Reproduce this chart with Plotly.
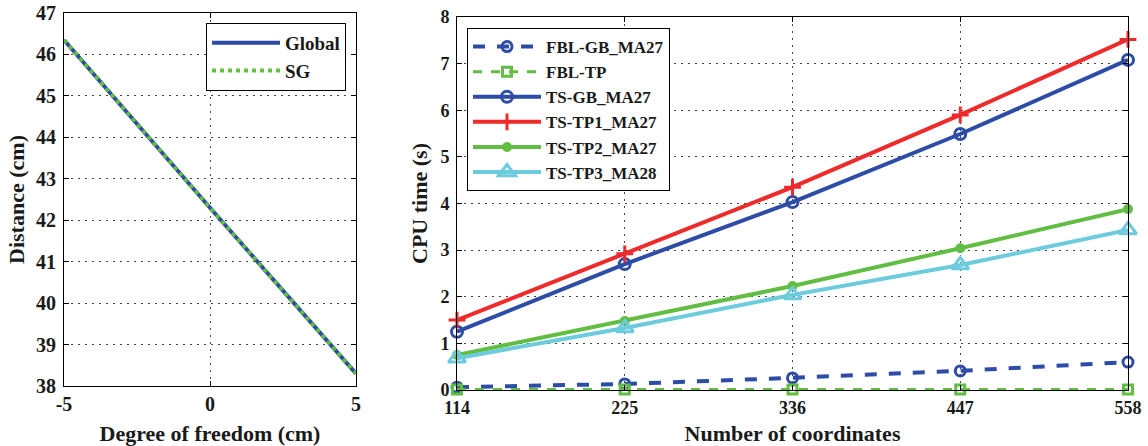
import plotly.graph_objects as go

# Left panel data
dof = [-5, -2.5, 0, 2.5, 5]
dist_global = [46.35, 44.32, 42.3, 40.3, 38.3]
dist_sg = [46.35, 44.32, 42.3, 40.3, 38.3]

# Right panel data
coords = [114, 225, 336, 447, 558]
fbl_gb = [0.06, 0.13, 0.26, 0.41, 0.60]
fbl_tp = [0.01, 0.01, 0.01, 0.01, 0.01]
ts_gb = [1.25, 2.70, 4.03, 5.49, 7.08]
ts_tp1 = [1.50, 2.92, 4.35, 5.90, 7.52]
ts_tp2 = [0.75, 1.48, 2.23, 3.04, 3.88]
ts_tp3 = [0.68, 1.33, 2.04, 2.68, 3.43]

BLUE = "#2D4CA6"
GREEN = "#62BD43"
RED = "#EE2A2A"
CYAN = "#6CCBDC"
FONT = "Liberation Serif"
TXT = "#1a1a1a"

W, H = 1148, 446
def fx(px):
    return px / W
def fy(py):
    return 1 - py / H

fig = go.Figure()

fig.add_trace(go.Scatter(x=dof, y=dist_global, mode="lines", name="<b>Global</b>",
                         line=dict(color=BLUE, width=4), xaxis="x", yaxis="y", legend="legend"))
fig.add_trace(go.Scatter(x=dof, y=dist_sg, mode="lines", name="<b>SG</b>",
                         line=dict(color=GREEN, width=4, dash="dot"), xaxis="x", yaxis="y", legend="legend"))

common = dict(xaxis="x2", yaxis="y2", legend="legend2", mode="lines+markers", cliponaxis=False)
fig.add_trace(go.Scatter(x=coords, y=fbl_gb, name="<b>FBL-GB_MA27</b>",
                         line=dict(color=BLUE, width=4, dash="dash"),
                         marker=dict(symbol="circle-open", size=10, color=BLUE, line=dict(width=3, color=BLUE)), **common))
fig.add_trace(go.Scatter(x=coords, y=fbl_tp, name="<b>FBL-TP</b>",
                         line=dict(color=GREEN, width=3, dash="dash"),
                         marker=dict(symbol="square-open", size=9, color=GREEN, line=dict(width=3, color=GREEN)), **common))
fig.add_trace(go.Scatter(x=coords, y=ts_gb, name="<b>TS-GB_MA27</b>",
                         line=dict(color=BLUE, width=4),
                         marker=dict(symbol="circle-open", size=11, color=BLUE, line=dict(width=3, color=BLUE)), **common))
fig.add_trace(go.Scatter(x=coords, y=ts_tp1, name="<b>TS-TP1_MA27</b>",
                         line=dict(color=RED, width=4),
                         marker=dict(symbol="cross-thin", size=12, color=RED, line=dict(width=3, color=RED)), **common))
fig.add_trace(go.Scatter(x=coords, y=ts_tp2, name="<b>TS-TP2_MA27</b>",
                         line=dict(color=GREEN, width=4),
                         marker=dict(symbol="circle", size=10, color=GREEN), **common))
fig.add_trace(go.Scatter(x=coords, y=ts_tp3, name="<b>TS-TP3_MA28</b>",
                         line=dict(color=CYAN, width=4),
                         marker=dict(symbol="triangle-up-open", size=15, color=CYAN, line=dict(width=3, color=CYAN)), **common))

axis_common = dict(showline=True, linecolor="black", linewidth=1, mirror="ticks",
                   ticks="inside", ticklen=5, tickcolor="black",
                   showgrid=True, gridcolor="#444444", griddash="2px,5px", gridwidth=1.2,
                   zeroline=False, automargin=False, ticklabeloverflow="allow")
TITLE_FONT = dict(family=FONT, size=22, color=TXT)

fig.update_layout(
    width=W, height=H,
    margin=dict(l=0, r=0, t=0, b=0),
    paper_bgcolor="white", plot_bgcolor="white",
    font=dict(family=FONT, color=TXT),
    showlegend=True,
    xaxis=dict(domain=[fx(64), fx(356)], range=[-5, 5], tickvals=[-5, 0, 5],
               ticktext=["<b>-5</b>", "<b>0</b>", "<b>5</b>"],
               tickfont=dict(family=FONT, size=20, color=TXT), ticklabelstandoff=0,
               title=dict(text="<b>Degree of freedom (cm)</b>", font=TITLE_FONT, standoff=16),
               anchor="y", **axis_common),
    yaxis=dict(domain=[fy(386), fy(13)], range=[38, 47], tickvals=list(range(38, 48)),
               ticktext=[f"<b>{v}</b>" for v in range(38, 48)],
               tickfont=dict(family=FONT, size=20, color=TXT), ticklabelstandoff=3,
               title=dict(text="<b>Distance (cm)</b>", font=TITLE_FONT, standoff=5),
               anchor="x", **axis_common),
    xaxis2=dict(domain=[fx(457), fx(1128)], range=[114, 558], tickvals=coords,
                ticktext=[f"<b>{c}</b>" for c in coords],
                tickfont=dict(family=FONT, size=18, color=TXT), ticklabelstandoff=1,
                title=dict(text="<b>Number of coordinates</b>", font=TITLE_FONT, standoff=10),
                anchor="y2", **axis_common),
    yaxis2=dict(domain=[fy(390), fy(17)], range=[0, 8], tickvals=list(range(0, 9)),
                ticktext=[f"<b>{v}</b>" for v in range(0, 9)],
                tickfont=dict(family=FONT, size=18, color=TXT), ticklabelstandoff=3,
                title=dict(text="<b>CPU time (s)</b>", font=TITLE_FONT, standoff=6),
                anchor="x2", **axis_common),
    legend=dict(x=fx(346), y=fy(23), xanchor="right", yanchor="top",
                bgcolor="white", bordercolor="black", borderwidth=1, itemwidth=68,
                font=dict(family=FONT, size=19, color=TXT), tracegroupgap=0),
    legend2=dict(x=fx(467), y=fy(28), xanchor="left", yanchor="top",
                 bgcolor="white", bordercolor="black", borderwidth=1, itemwidth=68,
                 font=dict(family=FONT, size=17, color=TXT), tracegroupgap=0),
)

fig.write_html("out.html", config={"displayModeBar": False},
               post_script="document.body.style.margin='0';document.body.style.overflow='hidden';")
